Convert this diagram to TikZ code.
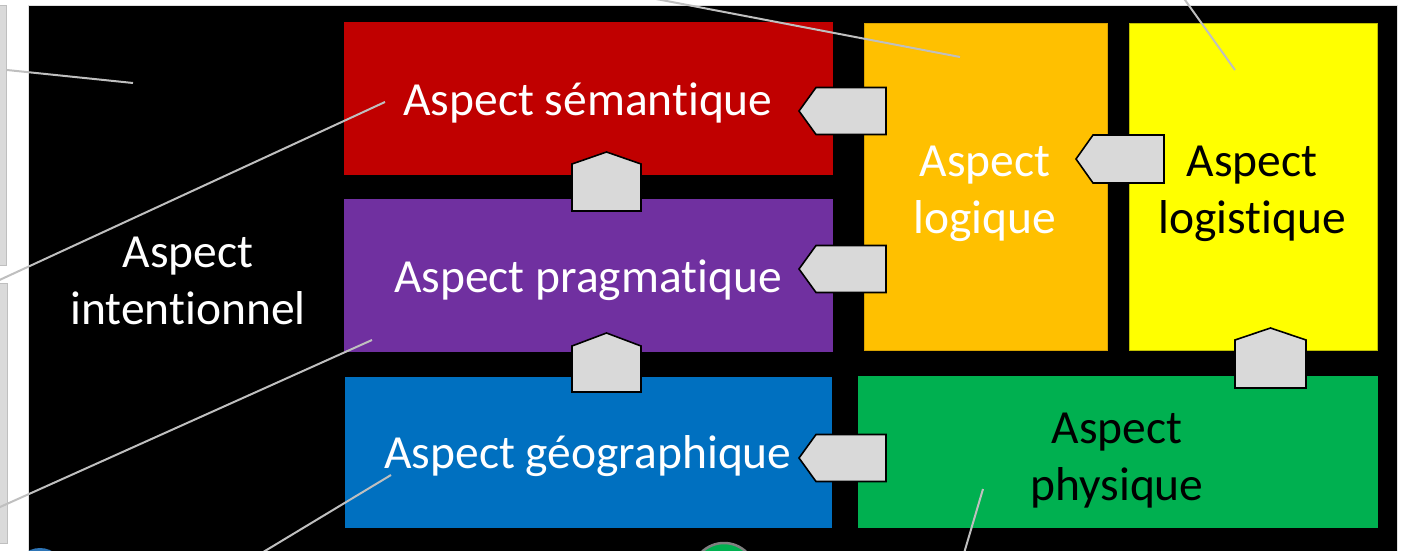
\documentclass[tikz,border=0pt]{standalone}
\usepackage{fontspec}
\setmainfont[RawFeature={-liga;-clig;-calt;-dlig;-rlig}]{Carlito}
\definecolor{semred}{HTML}{C00000}
\definecolor{pragpurple}{HTML}{7030A0}
\definecolor{geoblue}{HTML}{0070C0}
\definecolor{logorange}{HTML}{FFC000}
\definecolor{logyellow}{HTML}{FFFF00}
\definecolor{phygreen}{HTML}{00B050}
\definecolor{arrowgray}{HTML}{D9D9D9}
\definecolor{leadergray}{HTML}{BFBFBF}
\definecolor{panelgray}{HTML}{DADADA}
\definecolor{dotblue}{HTML}{2E75B6}
% left-pointing block arrow: tip x, centre y, notch depth, body length, half height
\newcommand\blockleft[5]{%
  \draw[blockarrow] (#1,#2) -- ++(#3,-#5) -- ++(#4,0) -- ++(0,2*#5) -- ++(-#4,0) -- cycle;}
% upward block arrow: centre x, tip y, roof height, body height, half width
\newcommand\blockup[5]{%
  \draw[blockarrow] (#1,#2) -- ++(#5,#3) -- ++(0,#4) -- ++(-2*#5,0) -- ++(0,-#4) -- cycle;}
\begin{document}
\begin{tikzpicture}[x=1pt,y=-1pt,
  box/.style={rectangle, inner sep=0pt, anchor=north west},
  lbl/.style={inner sep=0pt, font=\fontsize{47.5}{57}\selectfont, align=center},
  blockarrow/.style={fill=arrowgray, draw=black, line width=1.6pt, line join=miter},
  leader/.style={draw=leadergray, line width=2pt},
]
\useasboundingbox (0,0) rectangle (1403,551);
\clip (0,0) rectangle (1403,551);

% side panels at the left edge
\node[box, fill=panelgray, draw=leadergray, line width=1pt,
      minimum width=40, minimum height=260] (panelA) at (-34,5) {};
\node[box, fill=panelgray, draw=leadergray, line width=1pt,
      minimum width=41, minimum height=260] (panelB) at (-34,283) {};

% black frame
\node[box, fill=black, draw=black!12, line width=0.8pt,
      minimum width=1369, minimum height=580] (frame) at (28,5) {};

% aspect blocks
\node[box, fill=semred,     minimum width=489, minimum height=153] (sem)  at (344,22)  {};
\node[box, fill=pragpurple, minimum width=489, minimum height=153] (prag) at (344,199) {};
\node[box, fill=geoblue,    minimum width=487, minimum height=151] (geo)  at (345,377) {};
\node[box, fill=logorange, draw=logorange!85!black, line width=0.8pt,
      minimum width=243, minimum height=327] (logi) at (864,23) {};
\node[box, fill=logyellow, draw=logyellow!75!black, line width=0.8pt,
      minimum width=248, minimum height=327] (logist) at (1129,23) {};
\node[box, fill=phygreen,   minimum width=520, minimum height=152] (phy)  at (858,376) {};

% labels
\node[lbl, text=white, anchor=base] (semL)  at (588,115) {Aspect sémantique};
\node[lbl, text=white, anchor=base] (pragL) at (588,292) {Aspect pragmatique};
\node[lbl, text=white, anchor=base] (geoL)  at (588,468) {Aspect géographique};
\node[lbl, text=white]  (logiL)   at (985,194)  {Aspect\\logique};
\node[lbl, text=black]  (logistL) at (1252,194) {Aspect\\logistique};
\node[lbl, text=black]  (phyL)    at (1117,461) {Aspect\\physique};
\node[lbl, text=white]  (intL)    at (188,281)  {Aspect\\intentionnel};

% block arrows between aspects
\blockleft{799}{111}{17}{70}{23.5}
\blockleft{799}{269}{17}{70}{23.5}
\blockleft{1076}{159}{17}{71}{24}
\blockleft{799}{458}{17}{70}{23.5}
\blockup{606.5}{152}{12}{47}{34.5}
\blockup{606.5}{333}{13}{46}{34.5}
\blockup{1270.5}{328}{12}{48}{35.5}

% round markers along the bottom edge
\node[circle, fill=dotblue, inner sep=0pt, minimum size=50] (dotA) at (40,573) {};
\node[circle, fill=phygreen, draw=black!50, line width=2.5pt,
      inner sep=0pt, minimum size=64] (dotB) at (724,575) {};

% leader lines
\coordinate (inA) at (133,83);
\coordinate (inSem) at (385,102);
\coordinate (inPrag) at (372,340);
\coordinate (inGeo) at (391,475);
\coordinate (inLogi) at (960,57);
\coordinate (inLogist) at (1235,70);
\coordinate (inPhy) at (983,489);
\coordinate (outSem) at (-20,289);
\coordinate (outPrag) at (-20,516);
\coordinate (outGeo) at (250,560);
\coordinate (outLogi) at (630,-6);
\coordinate (outLogist) at (1180,-7);
\coordinate (outPhy) at (962,560);
\draw[leader] (panelA.east |- 0,70) -- (inA);
\draw[leader] (outSem) -- (inSem);
\draw[leader] (outPrag) -- (inPrag);
\draw[leader] (outGeo) -- (inGeo);
\draw[leader] (outLogi) -- (inLogi);
\draw[leader] (outLogist) -- (inLogist);
\draw[leader] (outPhy) -- (inPhy);
\end{tikzpicture}
\end{document}
